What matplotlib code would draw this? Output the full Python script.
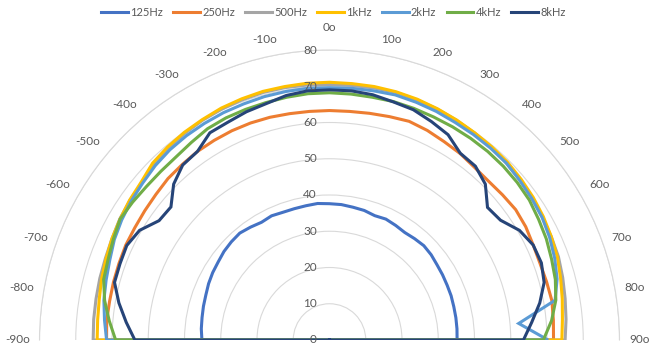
import numpy as np
import matplotlib
matplotlib.use('Agg')
from matplotlib import pyplot as plt

plt.rcParams['font.family'] = ['Lato', 'DejaVu Sans']

# measurement angles (deg, 0 = on axis, positive = right)
angles = np.arange(-90, 91, 5)

series_names = ['125Hz', '250Hz', '500Hz', '1kHz', '2kHz', '4kHz', '8kHz']
series_colors = ['#4472C4', '#ED7D31', '#A5A5A5', '#FFC000', '#5B9BD5', '#70AD47', '#264478']

spl_125 = [35.2, 35.5, 35.7, 36.0, 36.3, 36.8, 37.2, 37.5, 38.0, 38.3, 38.5, 38.0, 37.5, 37.8, 37.5, 37.5, 37.6, 37.8, 37.6,
           37.5, 37.2, 37.0, 36.5, 36.8, 36.5, 36.2, 36.5, 36.8, 36.6, 36.2, 36.0, 35.8, 35.7, 35.5, 35.4, 35.3, 35.2]
spl_250 = [61.5, 61.7, 61.6, 61.7, 61.8, 62.0, 62.0, 62.2, 62.5, 63.0, 63.2, 63.5, 63.6, 63.7, 63.7, 63.6, 63.4, 63.3, 63.3,
           63.3, 63.5, 63.8, 64.2, 63.8, 63.2, 62.8, 62.2, 62.0, 62.3, 62.7, 62.5, 62.0, 61.8, 62.0, 62.3, 62.0, 61.8]
spl_500 = [65.2, 65.3, 65.4, 65.6, 65.8, 66.2, 66.8, 67.2, 67.5, 68.5, 69.2, 69.6, 70.0, 70.3, 70.5, 70.7, 70.7, 70.6, 70.5,
           70.5, 70.6, 70.7, 70.5, 70.3, 70.0, 69.7, 69.4, 69.0, 68.6, 68.2, 67.8, 67.5, 67.2, 66.6, 66.0, 65.5, 65.0]
spl_1k = [64.1, 64.2, 64.5, 65.1, 65.6, 66.2, 66.7, 67.3, 67.8, 69.0, 69.5, 69.9, 70.2, 70.6, 70.8, 71.0, 71.0, 71.1, 71.1,
          71.0, 71.0, 70.9, 70.7, 70.4, 70.1, 69.8, 69.6, 69.4, 69.0, 68.6, 68.1, 67.5, 66.9, 66.0, 65.2, 64.5, 64.1]
spl_2k = [61.5, 62.3, 63.2, 63.8, 64.5, 65.5, 66.2, 66.8, 67.3, 68.0, 68.5, 68.8, 69.0, 69.2, 69.3, 69.5, 69.6, 69.7, 69.6,
          69.7, 69.8, 70.0, 69.8, 69.6, 69.3, 69.2, 69.1, 69.0, 68.5, 68.1, 67.7, 67.0, 66.1, 65.0, 63.2, 52.4, 60.3]
spl_4k = [59.0, 61.0, 63.0, 64.5, 65.0, 65.8, 66.7, 66.3, 65.9, 65.8, 65.9, 66.5, 67.3, 67.6, 67.7, 67.8, 68.0, 68.2, 68.2,
          68.1, 68.0, 68.1, 68.0, 67.9, 67.9, 67.9, 67.9, 67.8, 67.6, 67.3, 66.6, 66.0, 65.2, 64.5, 63.4, 61.5, 59.0]
spl_8k = [53.7, 56.3, 59.0, 61.4, 61.5, 61.7, 60.5, 57.4, 57.1, 60.8, 63.0, 63.5, 66.0, 66.3, 67.0, 67.5, 68.5, 69.0, 69.0,
          69.0, 68.7, 68.0, 67.6, 66.5, 65.4, 62.9, 62.6, 60.8, 56.9, 57.6, 60.5, 62.0, 62.2, 61.3, 58.9, 56.0, 53.5]
all_series = [spl_125, spl_250, spl_500, spl_1k, spl_2k, spl_4k, spl_8k]

r_ticks = np.arange(0, 81, 10)
theta_ticks = np.arange(-90, 91, 10)
theta_labels = [f'{a}o' for a in theta_ticks]

text_col = '#595959'
grid_col = '#d9d9d9'

W, H = 657, 347
fig = plt.figure(figsize=(W / 100, H / 100), dpi=100)
# matplotlib pads the half wedge to a square box, centre ends up a quarter of the way up
R = 290
cx, cy = 329.5, 7
ax = fig.add_axes([(cx - R) / W, (cy - R / 2) / H, 2 * R / W, 2 * R / H], projection='polar')
ax.set_theta_zero_location('N')
ax.set_theta_direction(-1)
ax.set_thetamin(-90)
ax.set_thetamax(90)
ax.set_ylim(0, 80)

for name, col, vals in zip(series_names, series_colors, all_series):
    # the series runs out of the centre and back to it, like the excel radar
    th = np.deg2rad(np.concatenate([[angles[0]], angles, [angles[-1]]]))
    rr = np.concatenate([[0], vals, [0]])
    ax.plot(th, rr, color=col, lw=2.2, label=name, solid_joinstyle='miter')

ax.set_rticks(r_ticks)
ax.set_yticklabels([])
ax.yaxis.grid(True, color=grid_col, lw=0.8)
ax.xaxis.grid(False)
for v in r_ticks:
    ax.annotate(str(v), xy=(0, v), xytext=(-9, 0), textcoords='offset points',
                ha='right', va='center', fontsize=8.5, color=text_col)

# angle labels: excel hangs them off the ring by their inner edge
ax.set_xticks(np.deg2rad(theta_ticks))
ax.set_xticklabels([])
for a, lab in zip(theta_ticks, theta_labels):
    ha = 'center' if a == 0 else ('right' if a < 0 else 'left')
    va = 'bottom' if abs(a) <= 60 else 'center'
    gap = 12 if a == 0 else 7
    ax.annotate(lab, xy=(np.deg2rad(a), r_ticks[-1]),
                xytext=(gap * np.sin(np.deg2rad(a)), gap * np.cos(np.deg2rad(a))),
                textcoords='offset points', ha=ha, va=va, fontsize=8.5, color=text_col,
                annotation_clip=False)

ax.spines['polar'].set_color(grid_col)
ax.spines['polar'].set_linewidth(0.8)
for s in ['start', 'end', 'inner']:
    ax.spines[s].set_color('none')

fig.legend(loc='upper center', bbox_to_anchor=(0.5076, 1.0), ncol=7, frameon=False,
           fontsize=8, labelcolor=text_col, handlelength=2.4, handletextpad=0.2,
           columnspacing=0.93, borderaxespad=0.25)

fig.savefig('out.png', dpi=100)
